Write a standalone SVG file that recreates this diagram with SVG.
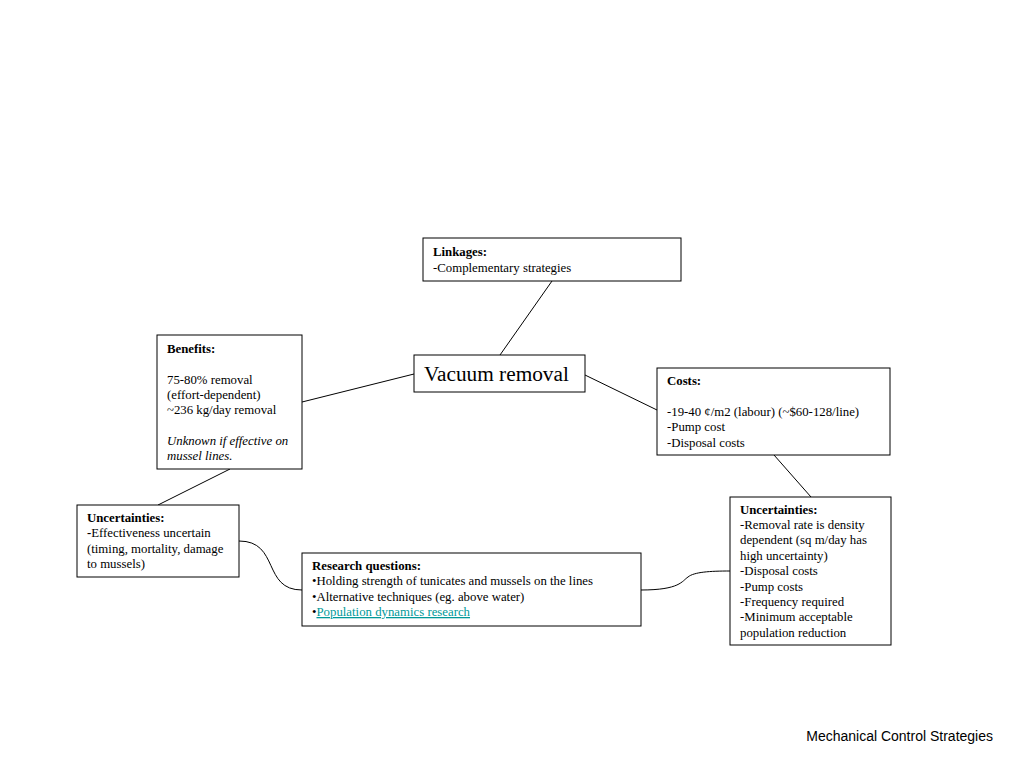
<svg xmlns="http://www.w3.org/2000/svg" width="1024" height="768" viewBox="0 0 1024 768">
<style>
.box{fill:#fff;stroke:#000;stroke-width:1}
.t{font-family:"Liberation Serif","Times New Roman",serif;font-size:12.8px;fill:#000}
.b{font-weight:bold}
.i{font-style:italic}
.conn{fill:none;stroke:#000;stroke-width:1}
.link{fill:#009999;text-decoration:underline}
</style>
<rect width="1024" height="768" fill="#fff"/>
<g id="connectors">
<line class="conn" x1="552" y1="281" x2="500" y2="355"/>
<line class="conn" x1="414" y1="374" x2="302" y2="402"/>
<line class="conn" x1="585" y1="375" x2="657" y2="410"/>
<line class="conn" x1="774" y1="455" x2="811" y2="497"/>
<line class="conn" x1="230" y1="469" x2="158" y2="505"/>
<path class="conn" d="M239,541 C280,541 262,590 302,590"/>
<path class="conn" d="M641,590 C680,590 682,581 688,577 C694,572 710,571 730,571"/>
</g>
<g id="linkages">
<rect class="box" x="423" y="238" width="258" height="43"/>
<text class="t" x="433"><tspan class="b" x="433" y="256">Linkages:</tspan><tspan x="433" y="272">-Complementary strategies</tspan></text>
</g>
<g id="vacuum">
<rect class="box" x="414" y="355" width="171" height="37"/>
<text class="t" x="424" y="381" style="font-size:21.3px">Vacuum removal</text>
</g>
<g id="benefits">
<rect class="box" x="157" y="335" width="145" height="134"/>
<text class="t"><tspan class="b" x="167" y="353">Benefits:</tspan><tspan x="167" y="384">75-80% removal</tspan><tspan x="167" y="399">(effort-dependent)</tspan><tspan x="167" y="414">~236 kg/day removal</tspan><tspan class="i" x="167" y="445">Unknown if effective on</tspan><tspan class="i" x="167" y="460">mussel lines.</tspan></text>
</g>
<g id="costs">
<rect class="box" x="657" y="368" width="233" height="87"/>
<text class="t"><tspan class="b" x="667" y="385">Costs:</tspan><tspan x="667" y="416">-19-40 ¢/m2 (labour) (~$60-128/line)</tspan><tspan x="667" y="431">-Pump cost</tspan><tspan x="667" y="447">-Disposal costs</tspan></text>
</g>
<g id="uncertainties-right">
<rect class="box" x="730" y="497" width="161" height="148"/>
<text class="t"><tspan class="b" x="740" y="514">Uncertainties:</tspan><tspan x="740" y="529">-Removal rate is density</tspan><tspan x="740" y="544">dependent (sq m/day has</tspan><tspan x="740" y="560">high uncertainty)</tspan><tspan x="740" y="575">-Disposal costs</tspan><tspan x="740" y="591">-Pump costs</tspan><tspan x="740" y="606">-Frequency required</tspan><tspan x="740" y="621">-Minimum acceptable</tspan><tspan x="740" y="637">population reduction</tspan></text>
</g>
<g id="uncertainties-left">
<rect class="box" x="77" y="505" width="162" height="72"/>
<text class="t"><tspan class="b" x="87" y="522">Uncertainties:</tspan><tspan x="87" y="537"><tspan class="b">-</tspan>Effectiveness uncertain</tspan><tspan x="87" y="553">(timing, mortality, damage</tspan><tspan x="87" y="568">to mussels)</tspan></text>
</g>
<g id="research">
<rect class="box" x="302" y="553" width="339" height="73"/>
<text class="t"><tspan class="b" x="312" y="570">Research questions:</tspan><tspan x="312" y="585">•Holding strength of tunicates and mussels on the lines</tspan><tspan x="312" y="601">•Alternative techniques (eg. above water)</tspan><tspan x="312" y="616">•<tspan class="link">Population dynamics research</tspan></tspan></text>
</g>
<text x="993" y="741" text-anchor="end" style="font-family:'Liberation Sans',Arial,sans-serif;font-size:14px;fill:#000">Mechanical Control Strategies</text>
</svg>
